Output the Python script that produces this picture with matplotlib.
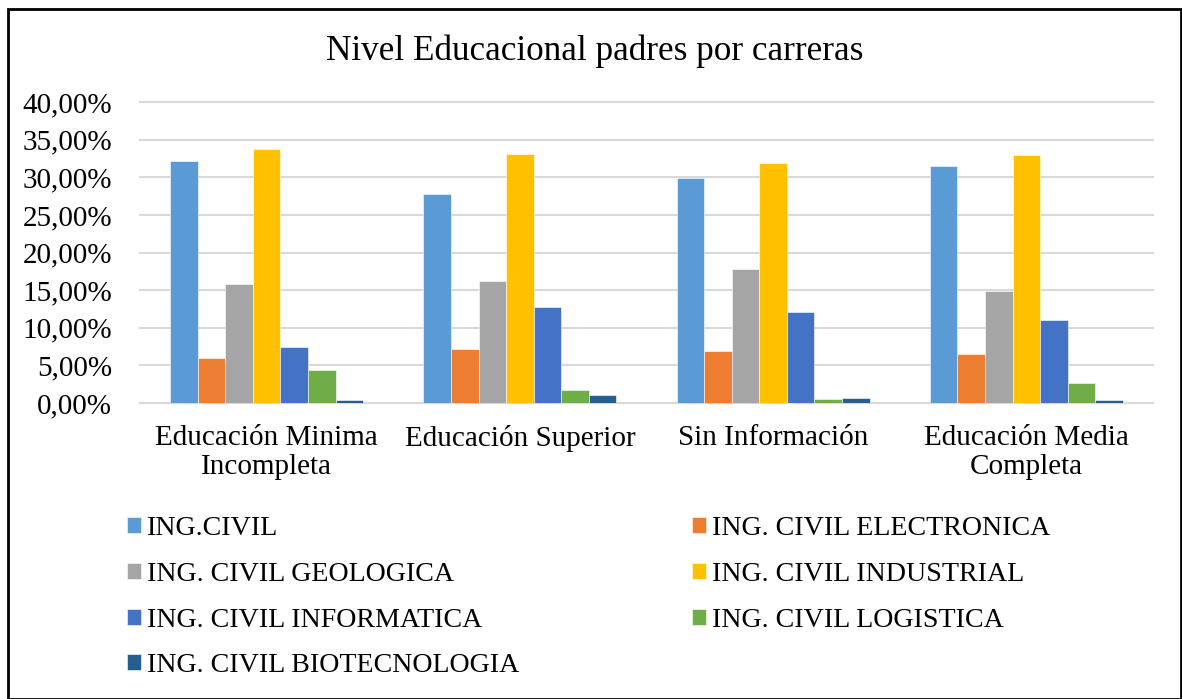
import matplotlib.pyplot as plt
import numpy as np
from matplotlib.patches import Rectangle

plt.rcParams['font.family'] = ['Liberation Serif', 'DejaVu Serif']

categorias = ['Educación Minima\nIncompleta', 'Educación Superior',
              'Sin Información', 'Educación Media\nCompleta']
carreras = ['ING.CIVIL', 'ING. CIVIL ELECTRONICA', 'ING. CIVIL GEOLOGICA',
            'ING. CIVIL INDUSTRIAL', 'ING. CIVIL INFORMATICA',
            'ING. CIVIL LOGISTICA', 'ING. CIVIL BIOTECNOLOGIA']

civil = [32.15, 27.84, 29.93, 31.44]
electronica = [5.95, 7.19, 6.97, 6.57]
geologica = [15.85, 16.16, 17.80, 14.83]
industrial = [33.75, 33.04, 31.84, 32.90]
informatica = [7.50, 12.74, 12.08, 10.97]
logistica = [4.35, 1.78, 0.58, 2.62]
biotecnologia = [0.36, 1.11, 0.62, 0.44]

series = [civil, electronica, geologica, industrial, informatica, logistica, biotecnologia]
colores = ['#5B9BD5', '#ED7D31', '#A5A5A5', '#FFC000', '#4472C4', '#70AD47', '#255E91']

fig = plt.figure(figsize=(11.82, 6.99), dpi=100)
ax = fig.add_axes([140 / 1182, 1 - 403 / 699, 1013 / 1182, 301 / 699])

x = np.arange(len(categorias))
n = len(series)
ancho = 1 / (n + 2.19)
barras = []
for i, (vals, c, nom) in enumerate(zip(series, colores, carreras)):
    b = ax.bar(x + (i - (n - 1) / 2) * ancho, vals, width=ancho, color=c,
               label=nom, zorder=3, edgecolor='white', linewidth=0.4)
    barras.append(b)

ax.set_xlim(-0.5, len(categorias) - 0.5)
ax.set_ylim(0, 40)
yt = np.arange(0, 41, 5)
ax.set_yticks(yt)
ax.set_yticklabels([('%.2f%%' % v).replace('.', ',') for v in yt], fontsize=21)
ax.tick_params(axis='y', length=0, pad=20)
ax.set_xticks(x)
ax.set_xticklabels(categorias, fontsize=21, linespacing=1.12)
ax.tick_params(axis='x', length=0, pad=16)
ax.grid(axis='y', color='#D9D9D9', linewidth=1.5, zorder=0)
for l in ax.get_ygridlines():
    l.set_clip_on(False)
for s in ['top', 'right', 'left']:
    ax.spines[s].set_visible(False)
ax.spines['bottom'].set_color('#D9D9D9')
ax.spines['bottom'].set_linewidth(1.5)

fig.text(595 / 1182, 1 - 51 / 699, 'Nivel Educacional padres por carreras',
         ha='center', va='center', fontsize=25.3)

# leyenda en dos columnas, orden por filas
kw = dict(frameon=False, fontsize=20.2, handlelength=0.5, handleheight=0.5,
          handletextpad=0.22, labelspacing=0.74, borderaxespad=0, borderpad=0)
izq = [0, 2, 4, 6]
der = [1, 3, 5]
leg1 = fig.legend([barras[i] for i in izq], [carreras[i] for i in izq],
                  loc='upper left', bbox_to_anchor=(127 / 1182, 1 - 516 / 699), **kw)
leg2 = fig.legend([barras[i] for i in der], [carreras[i] for i in der],
                  loc='upper left', bbox_to_anchor=(692 / 1182, 1 - 516 / 699), **kw)

fig.patches.append(Rectangle((7.5 / 1182, 0.5 / 699), 1173 / 1182, 690 / 699,
                             transform=fig.transFigure, fill=False,
                             edgecolor='black', linewidth=2))

fig.savefig('out.png', dpi=100)
